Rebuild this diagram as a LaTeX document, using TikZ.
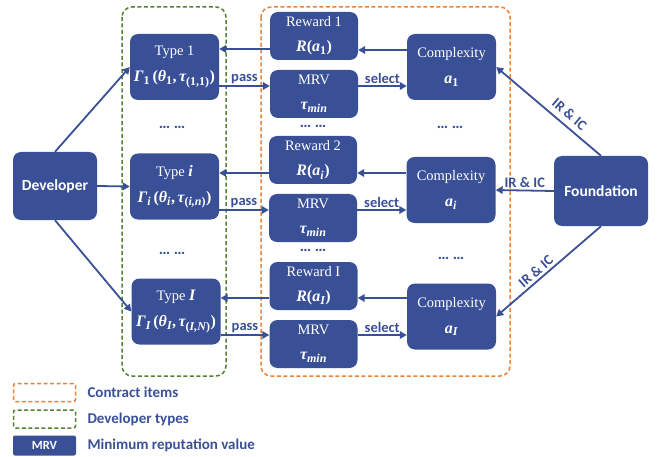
\documentclass[tikz,border=0pt]{standalone}
\usepackage{fontspec}
\usepackage{amsmath}
\setmainfont{Liberation Serif}
\newfontfamily\labelsans{Carlito}
\usetikzlibrary{arrows.meta,calc}
\definecolor{boxblue}{HTML}{3A5096}
\definecolor{framegreen}{HTML}{548235}
\definecolor{frameorange}{HTML}{E8843A}
% formula pieces: bold italic / bold upright, full size and subscript size
\newcommand\fb[1]{\text{\fontsize{16}{19}\selectfont\bfseries\itshape #1}}
\newcommand\fu[1]{\text{\fontsize{16}{19}\selectfont\bfseries #1}}
\newcommand\sbi[1]{\text{\fontsize{12}{14}\selectfont\bfseries\itshape #1}}
\newcommand\sbu[1]{\text{\fontsize{12}{14}\selectfont\bfseries #1}}
\tikzset{
  box/.style={fill=boxblue, rounded corners=8pt, text=white, align=center,
    inner sep=0pt, font=\fontsize{14.5}{17}\selectfont},
  typebox/.style={box, minimum width=89pt, minimum height=66pt},
  itembox/.style={box, minimum width=88pt, minimum height=48pt},
  sidebox/.style={box, minimum width=88pt, minimum height=68pt,
    font=\labelsans\bfseries\fontsize{15.5}{18}\selectfont},
  arr/.style={draw=boxblue, line width=1.8pt, -{Triangle[length=7pt,width=7.5pt]}},
  lbl/.style={text=boxblue, font=\labelsans\bfseries\fontsize{14.5}{17}\selectfont, inner sep=1.5pt},
  dots/.style={text=boxblue, font=\labelsans\bfseries\fontsize{16}{18}\selectfont},
  frame/.style={line width=1.5pt, dash pattern=on 4pt off 2.5pt, rounded corners=10pt},
  legendtext/.style={text=boxblue, anchor=west, font=\labelsans\bfseries\fontsize{15}{18}\selectfont},
}
\begin{document}
\begin{tikzpicture}[x=1pt,y=-1pt]
\useasboundingbox (0,0) rectangle (658,457);

% group frames
\draw[frame, framegreen] (122,7) rectangle (226,376);
\draw[frame, frameorange] (261,7) rectangle (510,376);

% principals
\node[sidebox, minimum width=84pt] (dev) at (55,186) {Developer};
\node[sidebox, minimum width=94pt, minimum height=70pt] (fnd) at (601,191) {Foundation};

% developer types
\node[typebox] (type1) at (174.5,67) {Type 1\\[9pt]$\fb{Γ}_{\sbu{1}}\,\fu{(}\fb{θ}_{\sbu{1}}\fu{,}\,\fb{τ}_{\sbu{(1,1)}}\fu{)}$};
\node[typebox] (typei) at (174.5,186.5) {Type \fb{i}\\[9pt]$\fb{Γ}_{\sbi{i}}\,\fu{(}\fb{θ}_{\sbi{i}}\fu{,}\,\fb{τ}_{\sbu{(}\sbi{i,n}\sbu{)}}\fu{)}$};
\node[typebox] (typeI) at (176,311.5) {Type \fb{I}\\[9pt]$\fb{Γ}_{\sbi{I}}\,\fu{(}\fb{θ}_{\sbi{I}}\fu{,}\,\fb{τ}_{\sbu{(}\sbi{I,N}\sbu{)}}\fu{)}$};

% contract items
\node[itembox] (rew1) at (314,36) {Reward 1\\[8pt]$\fb{R}\fu{(}\fb{a}_{\sbu{1}}\fu{)}$};
\node[itembox] (mrv1) at (314,94) {MRV\\[8pt]$\fb{τ}_{\sbi{min}}$};
\node[itembox] (rew2) at (313,160) {Reward 2\\[8pt]$\fb{R}\fu{(}\fb{a}_{\sbi{i}}\fu{)}$};
\node[itembox] (mrv2) at (313,218) {MRV\\[8pt]$\fb{τ}_{\sbi{min}}$};
\node[itembox] (rewI) at (313.5,286) {Reward I\\[8pt]$\fb{R}\fu{(}\fb{a}_{\sbi{I}}\fu{)}$};
\node[itembox] (mrvI) at (313.5,344) {MRV\\[8pt]$\fb{τ}_{\sbi{min}}$};

\node[typebox] (cx1) at (451.5,67) {Complexity\\[9pt]$\fb{a}_{\sbu{1}}$};
\node[typebox] (cxi) at (451,190) {Complexity\\[9pt]$\fb{a}_{\sbi{i}}$};
\node[typebox] (cxI) at (451.5,316.5) {Complexity\\[9pt]$\fb{a}_{\sbi{I}}$};

% omitted rows
\node[dots] (dt1) at (172,127) {… …};
\node[dots] (dt2) at (172,253) {… …};
\node[dots] (dm1) at (313,126) {… …};
\node[dots] (dm2) at (313,250) {… …};
\node[dots] (dc1) at (450,127) {… …};
\node[dots] (dc2) at (451,258) {… …};

% developer to types
\draw[arr] (dev.north) -- (type1.west);
\draw[arr] (dev.east) -- (typei.west);
\draw[arr] (dev.south) -- (typeI.west);

% foundation to complexities
\draw[arr] (fnd.north) -- node[lbl, sloped, above=4pt, pos=0.37] {IR \& IC} (cx1.east);
\draw[arr] (fnd.west) -- node[lbl, above] {IR \& IC} (cxi.east);
\draw[arr] (fnd.south) -- node[lbl, sloped, above=1pt, pos=0.57] {IR \& IC} (cxI.east);

% row 1
\coordinate (r1) at ($(rew1.west)+(0,13)$);
\draw[arr] (r1) -- (r1 -| type1.east);
\coordinate (p1) at ($(mrv1.west)+(0,-8)$);
\draw[arr] (p1 -| type1.east) -- node[lbl, above] {pass} (p1);
\coordinate (s1) at ($(mrv1.east)+(0,-8)$);
\draw[arr] (s1) -- node[lbl, above] {select} (s1 -| cx1.west);
\coordinate (c1) at ($(rew1.east)+(0,14)$);
\draw[arr] (c1 -| cx1.west) -- (c1);

% row i
\coordinate (r2) at ($(rew2.west)+(0,13)$);
\draw[arr] (r2) -- (r2 -| typei.east);
\coordinate (p2) at ($(mrv2.west)+(0,-8)$);
\draw[arr] (p2 -| typei.east) -- node[lbl, above] {pass} (p2);
\coordinate (s2) at ($(mrv2.east)+(0,-8)$);
\draw[arr] (s2) -- node[lbl, above] {select} (s2 -| cxi.west);
\coordinate (c2) at ($(rew2.east)+(0,13)$);
\draw[arr] (c2 -| cxi.west) -- (c2);

% row I
\coordinate (r3) at ($(rewI.west)+(0,12)$);
\draw[arr] (r3) -- (r3 -| typeI.east);
\coordinate (p3) at ($(mrvI.west)+(0,-9)$);
\draw[arr] (p3 -| typeI.east) -- node[lbl, above] {pass} (p3);
\coordinate (s3) at ($(mrvI.east)+(0,-9)$);
\draw[arr] (s3) -- node[lbl, above] {select} (s3 -| cxI.west);
\coordinate (c3) at ($(rewI.east)+(0,12)$);
\draw[arr] (c3 -| cxI.west) -- (c3);

% legend
\node[draw=frameorange, line width=1.5pt, dash pattern=on 4pt off 2.5pt, rounded corners=2pt,
  minimum width=62pt, minimum height=18pt, inner sep=0pt] (lg1) at (44.5,392.5) {};
\node[draw=framegreen, line width=1.5pt, dash pattern=on 4pt off 2.5pt, rounded corners=2pt,
  minimum width=62pt, minimum height=18pt, inner sep=0pt] (lg2) at (44.5,419) {};
\node[fill=boxblue, rounded corners=2pt, minimum width=63pt, minimum height=20pt, inner sep=0pt,
  text=white, font=\labelsans\bfseries\fontsize{12.5}{14}\selectfont] (lg3) at (44.5,445.5) {MRV};
\node[legendtext] (lt1) at (84,392) {Contract items};
\node[legendtext] (lt2) at (84,419) {Developer types};
\node[legendtext] (lt3) at (84,445) {Minimum reputation value};
\end{tikzpicture}
\end{document}
